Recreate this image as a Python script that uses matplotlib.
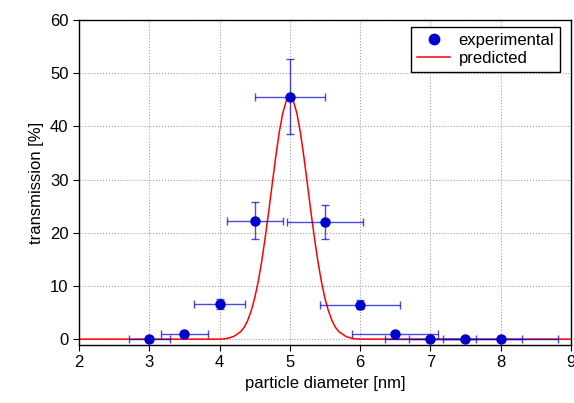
import matplotlib
matplotlib.use("Agg")
import matplotlib.pyplot as plt
import numpy as np

plt.rcParams['font.family'] = ['Liberation Sans', 'DejaVu Sans']

# experimental points
diameter = [3.0, 3.5, 4.0, 4.5, 5.0, 5.5, 6.0, 6.5, 7.0, 7.5, 8.0]
transmission = [0.0, 0.9, 6.6, 22.3, 45.6, 22.0, 6.5, 0.9, 0.1, 0.0, 0.0]
diameter_err = [0.29, 0.33, 0.36, 0.40, 0.50, 0.54, 0.57, 0.61, 0.65, 0.80, 0.82]
transmission_err = [0.1, 0.3, 1.0, 3.4, 7.0, 3.2, 0.9, 0.3, 0.1, 0.1, 0.1]

# predicted curve
pred_x = [2.0, 3.0, 4.0, 4.1, 4.2, 4.3, 4.35, 4.4, 4.45, 4.5, 4.55, 4.6, 4.65,
          4.7, 4.75, 4.8, 4.85, 4.9, 4.95, 5.0, 5.05, 5.1, 5.15, 5.2, 5.25,
          5.3, 5.35, 5.4, 5.45, 5.5, 5.55, 5.6, 5.65, 5.7, 5.8, 5.9, 6.0,
          7.0, 8.0, 9.0]
pred_y = [0.0, 0.0, 0.0, 0.1, 0.5, 1.4, 2.2, 3.5, 5.3, 7.7, 10.8, 14.6, 19.1,
          24.0, 29.2, 34.3, 38.9, 42.5, 44.8, 45.6, 44.8, 42.5, 38.9, 34.3, 29.2,
          24.0, 19.1, 14.6, 10.8, 7.7, 5.3, 3.5, 2.2, 1.4, 0.5, 0.1, 0.0,
          0.0, 0.0, 0.0]

fig = plt.figure(figsize=(5.74, 4.03), dpi=100)
ax = fig.add_axes([0.1376, 0.1439, 0.857, 0.8065])

ax.plot(pred_x, pred_y, color='red', lw=1.1, label='predicted', zorder=2)
ax.errorbar(diameter, transmission, xerr=diameter_err, yerr=transmission_err,
            fmt='none', ecolor='#0000cc', elinewidth=1.0, capsize=3,
            capthick=1.0, alpha=0.7, zorder=3)
ax.plot(diameter, transmission, 'o', color='#0000cc', ms=6.5,
        label='experimental', zorder=4)

ax.set_xlim(2, 9)
ax.set_ylim(-1.1, 60)
ax.set_xticks(range(2, 10))
ax.set_yticks(range(0, 61, 10))
ax.grid(True, ls=':', color='#a0a0a0', lw=0.8)
ax.set_axisbelow(True)
ax.tick_params(direction='out', length=4, labelsize=12)
for s in ax.spines.values():
    s.set_linewidth(1.0)

ax.set_xlabel('particle diameter [nm]', fontsize=12)
ax.set_ylabel('transmission [%]', fontsize=12)

handles, labels = ax.get_legend_handles_labels()
leg = ax.legend(handles[::-1], labels[::-1], loc='upper right', fontsize=12,
                fancybox=False, edgecolor='black', framealpha=1,
                handlelength=2.0, handletextpad=0.5, borderpad=0.35,
                labelspacing=0.2, borderaxespad=0,
                bbox_to_anchor=(0.978, 0.978), markerscale=1.15)
leg.get_frame().set_linewidth(1.0)

fig.savefig('out.png', dpi=100)
